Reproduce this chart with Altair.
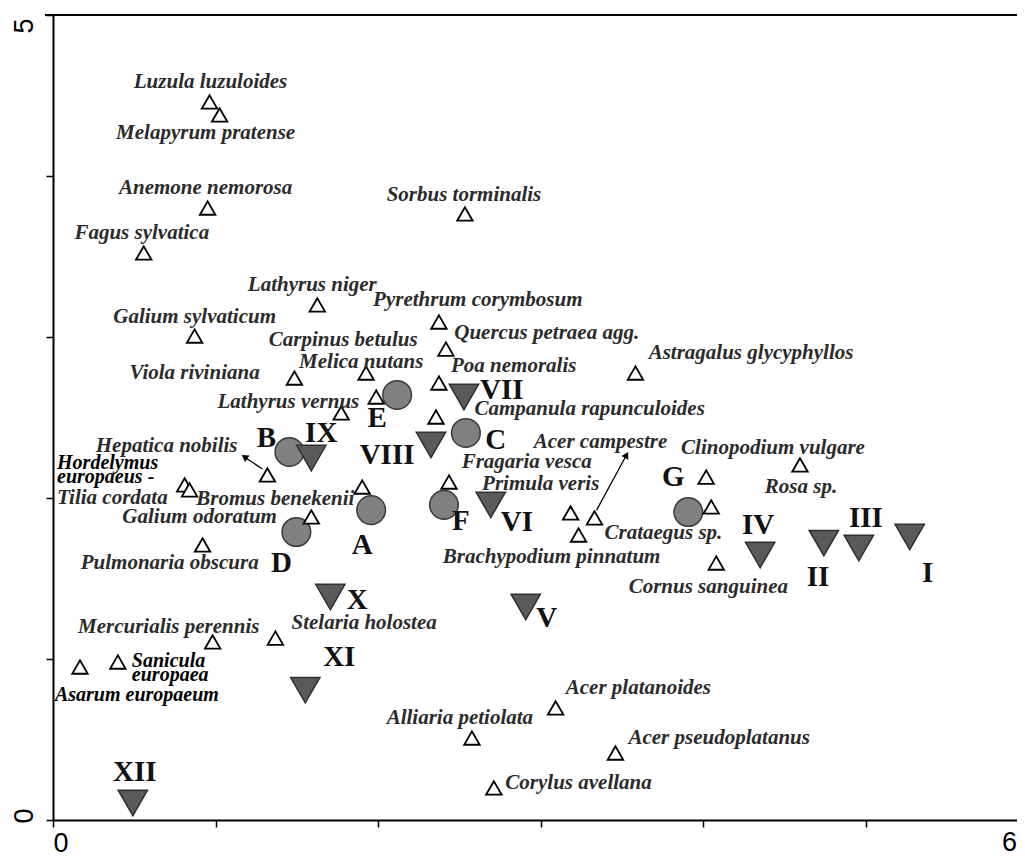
import altair as alt
import pandas as pd

# ---------------- data ----------------
sp_names = [
    "Luzula luzuloides", "Melapyrum pratense", "Anemone nemorosa", "Fagus sylvatica",
    "Sorbus torminalis", "Lathyrus niger", "Pyrethrum corymbosum", "Galium sylvaticum",
    "Quercus petraea agg.", "Carpinus betulus", "Melica nutans", "Viola riviniana",
    "Poa nemoralis", "Astragalus glycyphyllos", "Lathyrus vernus", "Campanula rapunculoides",
    "Hepatica nobilis", "Bromus benekenii", "Fragaria vesca", "Hordelymus\neuropaeus -",
    "Tilia cordata", "Galium odoratum", "Pulmonaria obscura", "Primula veris",
    "Acer campestre", "Brachypodium pinnatum", "Crataegus sp.", "Clinopodium vulgare",
    "Rosa sp.", "Cornus sanguinea", "Stelaria holostea", "Mercurialis perennis",
    "Sanicula\neuropaea", "Asarum europaeum", "Acer platanoides", "Alliaria petiolata",
    "Acer pseudoplatanus", "Corylus avellana",
]
sp_x = [0.963, 1.025, 0.951, 0.558, 2.534, 1.626, 2.374, 0.871, 2.417, 1.988, 1.926, 1.485,
        2.374, 3.583, 1.773, 2.356, 1.319, 1.902, 2.436, 0.810, 0.840, 1.589, 0.920, 3.184,
        3.331, 3.233, 4.049, 4.018, 4.595, 4.080, 1.368, 0.982, 0.399, 0.166, 3.092, 2.577,
        3.460, 2.712]
sp_y = [4.460, 4.379, 3.801, 3.522, 3.764, 3.199, 3.093, 3.006, 2.925, 2.627, 2.776, 2.745,
        2.714, 2.776, 2.528, 2.503, 2.143, 2.068, 2.099, 2.081, 2.050, 1.882, 1.708, 1.907,
        1.876, 1.770, 1.944, 2.130, 2.205, 1.596, 1.130, 1.106, 0.981, 0.950, 0.696, 0.509,
        0.416, 0.199]
sp_label_x = [0.969, 0.939, 0.939, 0.546, 2.528, 1.595, 2.613, 0.871, 3.037, 1.785, 1.896, 0.871,
              2.834, 4.294, 1.448, 3.301, 0.699, 1.368, 2.914, 0.025, 0.025, 0.902, 0.718, 3.000,
              3.368, 3.067, 3.755, 4.429, 4.601, 4.031, 1.914, 0.712, 0.485, 0.012, 3.601, 2.503,
              4.098, 3.233]
sp_label_y = [4.584, 4.267, 3.925, 3.646, 3.882, 3.323, 3.230, 3.124, 3.025, 2.981, 2.845, 2.776,
              2.820, 2.901, 2.596, 2.553, 2.323, 1.994, 2.224, 2.217, 2.000, 1.882, 1.596, 2.087,
              2.348, 1.634, 1.783, 2.311, 2.068, 1.447, 1.224, 1.199, 0.988, 0.776, 0.820, 0.634,
              0.509, 0.230]
sp_group = ["c"] * 19 + ["k", "l"] + ["c"] * 11 + ["k", "k"] + ["c"] * 4

grp_names = ["A", "B", "C", "D", "E", "F", "G"]
grp_x = [1.957, 1.454, 2.540, 1.497, 2.117, 2.405, 3.908]
grp_y = [1.925, 2.286, 2.404, 1.789, 2.640, 1.957, 1.913]
grp_label_x = [1.902, 1.313, 2.724, 1.405, 1.994, 2.509, 3.816]
grp_label_y = [1.708, 2.373, 2.360, 1.596, 2.497, 1.857, 2.130]

rel_names = ["I", "II", "III", "IV", "V", "VI", "VII", "VIII", "IX", "X", "XI", "XII"]
rel_x = [5.270, 4.742, 4.957, 4.350, 2.908, 2.693, 2.528, 2.325, 1.589, 1.706, 1.552, 0.491]
rel_y = [1.758, 1.720, 1.689, 1.646, 1.323, 1.957, 2.627, 2.329, 2.248, 1.385, 0.807, 0.106]
rel_label_x = [5.380, 4.706, 5.000, 4.337, 3.037, 2.853, 2.761, 2.055, 1.650, 1.871, 1.761, 0.503]
rel_label_y = [1.534, 1.509, 1.876, 1.832, 1.255, 1.851, 2.671, 2.267, 2.404, 1.366, 1.012, 0.298]

arrow_from_x = [1.288, 3.344]
arrow_from_y = [2.180, 1.925]
arrow_to_x = [1.178, 3.528]
arrow_to_y = [2.255, 2.267]
arrow_angle = [304, 29]

x_ticks = [0, 1, 2, 3, 4, 5]
y_ticks = [0, 1, 2, 3, 4, 5]

# ---------------- tables ----------------
species = pd.DataFrame({"name": sp_names, "x": sp_x, "y": sp_y,
                        "lx": sp_label_x, "ly": sp_label_y, "g": sp_group})
groups = pd.DataFrame({"name": grp_names, "x": grp_x, "y": grp_y,
                       "lx": grp_label_x, "ly": grp_label_y})
releves = pd.DataFrame({"name": rel_names, "x": rel_x, "y": rel_y,
                        "lx": rel_label_x, "ly": rel_label_y})
arrows = pd.DataFrame({"x": arrow_from_x, "y": arrow_from_y,
                       "x2": arrow_to_x, "y2": arrow_to_y, "a": arrow_angle})

W, H = 964, 805
xs = alt.Scale(domain=[0, 5.93], nice=False, zero=False)
ys = alt.Scale(domain=[0, 5], nice=False, zero=False)

x_axis = alt.Axis(values=x_ticks, labelExpr="datum.value == 0 ? '0' : ''", title=None,
                  grid=False, tickSize=7, tickWidth=1.5, tickColor="black",
                  domainColor="black", domainWidth=2, labelFont="Liberation Sans",
                  labelFontSize=27, labelColor="black", labelPadding=3)
y_axis = alt.Axis(values=y_ticks, labelExpr="(datum.value == 0 || datum.value == 5) ? datum.label : ''",
                  title=None, grid=False, tickSize=7, tickWidth=1.5, tickColor="black",
                  domainColor="black", domainWidth=2, labelFont="Liberation Sans",
                  labelFontSize=27, labelColor="black", labelAngle=270,
                  labelAlign={"condition": {"test": "datum.value == 0", "value": "left"}, "value": "right"},
                  labelBaseline="alphabetic", labelPadding=14, labelOffset=3)


def X(f):
    return alt.X(f, type="quantitative", scale=xs, axis=x_axis)


def Y(f):
    return alt.Y(f, type="quantitative", scale=ys, axis=y_axis)


SERIF = "Liberation Serif"

top_line = alt.Chart(pd.DataFrame({"v": [5]})).mark_rule(color="black", strokeWidth=2).encode(
    x=alt.value(-8), x2=alt.value(W), y=Y("v"))

circles = alt.Chart(groups).mark_point(
    shape="circle", filled=True, size=820, fill="#808080", stroke="#3a3a3a",
    strokeWidth=1.5, opacity=1).encode(x=X("x"), y=Y("y"))

downs = alt.Chart(releves).mark_point(
    shape="triangle-down", filled=True, size=860, fill="#5a5a5a", stroke="#303030",
    strokeWidth=1.5, opacity=1).encode(x=X("x"), y=Y("y"))

ups = alt.Chart(species).mark_point(
    shape="triangle-up", filled=True, size=240, fill="white", stroke="black",
    strokeWidth=1.8, opacity=1).encode(x=X("x"), y=Y("y"))

arrow_lines = alt.Chart(arrows).mark_rule(color="black", strokeWidth=1.3).encode(
    x=X("x"), y=Y("y"), x2="x2", y2="y2")
arrow_heads = alt.Chart(arrows).mark_point(
    shape="triangle-up", filled=True, size=60, color="black", opacity=1).encode(
    x=X("x2"), y=Y("y2"), angle=alt.Angle("a:Q", scale=None))

sp_center = alt.Chart(species).transform_filter("datum.g == 'c'").mark_text(
    font=SERIF, fontStyle="italic", fontWeight="bold", fontSize=21, color="#2b2b2b",
    align="center", baseline="middle").encode(x=X("lx"), y=Y("ly"), text="name:N")
sp_left = alt.Chart(species).transform_filter("datum.g == 'l'").mark_text(
    font=SERIF, fontStyle="italic", fontWeight="bold", fontSize=21, color="#2b2b2b",
    align="left", baseline="middle").encode(x=X("lx"), y=Y("ly"), text="name:N")
sp_black = alt.Chart(species).transform_filter("datum.g == 'k'").mark_text(
    font=SERIF, fontStyle="italic", fontWeight="bold", fontSize=20, color="black",
    align="left", baseline="middle", lineBreak="\n", lineHeight=14).encode(
    x=X("lx"), y=Y("ly"), text="name:N")

grp_text = alt.Chart(groups).mark_text(
    font=SERIF, fontWeight="bold", fontSize=29, color="#111111",
    align="center", baseline="middle").encode(x=X("lx"), y=Y("ly"), text="name:N")
rel_text = alt.Chart(releves).mark_text(
    font=SERIF, fontWeight="bold", fontSize=29, color="#111111",
    align="center", baseline="middle").encode(x=X("lx"), y=Y("ly"), text="name:N")

six = alt.Chart(pd.DataFrame({"t": ["6"], "x": [5.93], "y": [0]})).mark_text(
    font="Liberation Sans", fontSize=27, color="black", align="right", baseline="top",
    dy=10).encode(x=X("x"), y=Y("y"), text="t:N")

chart = alt.layer(
    top_line, circles, downs, ups, arrow_lines, arrow_heads,
    sp_center, sp_left, sp_black, grp_text, rel_text, six
).properties(
    width=W, height=H,
    padding={"left": 45, "top": 7, "right": 0, "bottom": 41},
    autosize=alt.AutoSizeParams(type="none"),
).configure_view(stroke=None).configure(background="white")

chart.save("out.html", embed_options={"renderer": "svg", "actions": False})
